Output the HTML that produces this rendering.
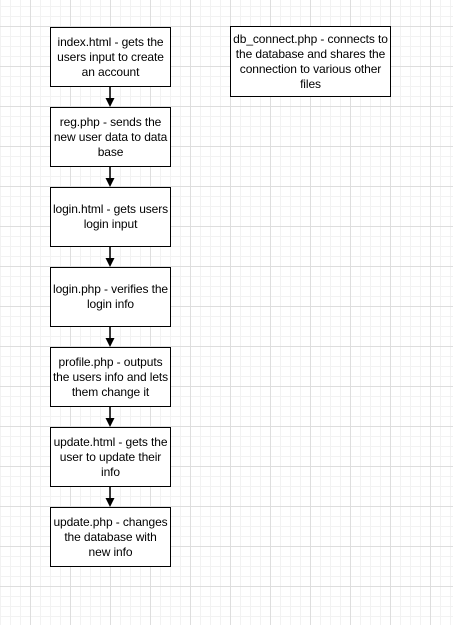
<!DOCTYPE html>
<html><head><style>
html,body{margin:0;padding:0}
body{width:453px;height:625px;position:relative;overflow:hidden;background-color:#fff;
background-image:
linear-gradient(to right,#dedede 1px,transparent 1px),
linear-gradient(to bottom,#dedede 1px,transparent 1px),
linear-gradient(to right,#f2f2f2 1px,transparent 1px),
linear-gradient(to bottom,#f2f2f2 1px,transparent 1px);
background-size:40px 40px,40px 40px,10px 10px,10px 10px;
background-position:30px 0,0 26px,0 0,0 6px;
font-family:"Liberation Sans",Arial,sans-serif;font-size:12px;color:#000}
.b{position:absolute;box-sizing:border-box;border:1.5px solid #000;background:#fff;display:flex;align-items:center;justify-content:center;text-align:center;line-height:15px;padding:0;white-space:nowrap;letter-spacing:-0.1px}
svg{position:absolute;left:0;top:0}
</style></head><body>
<svg width="453" height="625">
<g stroke="#000" stroke-width="1.5">
<line x1="110" y1="86" x2="110" y2="100"/>
<line x1="110" y1="166" x2="110" y2="180"/>
<line x1="110" y1="246" x2="110" y2="260"/>
<line x1="110" y1="326" x2="110" y2="340"/>
<line x1="110" y1="406" x2="110" y2="420"/>
<line x1="110" y1="486" x2="110" y2="500"/>
</g>
<g fill="#000">
<path d="M105.5 98 L114.5 98 L110 107 Z"/>
<path d="M105.5 178 L114.5 178 L110 187 Z"/>
<path d="M105.5 258 L114.5 258 L110 267 Z"/>
<path d="M105.5 338 L114.5 338 L110 347 Z"/>
<path d="M105.5 418 L114.5 418 L110 427 Z"/>
<path d="M105.5 498 L114.5 498 L110 507 Z"/>
</g>
</svg>
<div class="b" style="left:50px;top:27px;width:121px;height:60px">index.html - gets the<br>users input to create<br>an account</div>
<div class="b" style="left:50px;top:107px;width:121px;height:60px">reg.php - sends the<br>new user data to data<br>base</div>
<div class="b" style="left:50px;top:187px;width:121px;height:60px">login.html - gets users<br>login input</div>
<div class="b" style="left:50px;top:267px;width:121px;height:60px">login.php - verifies the<br>login info</div>
<div class="b" style="left:50px;top:347px;width:121px;height:60px">profile.php - outputs<br>the users info and lets<br>them change it</div>
<div class="b" style="left:50px;top:427px;width:121px;height:60px">update.html - gets the<br>user to update their<br>info</div>
<div class="b" style="left:50px;top:507px;width:121px;height:60px">update.php - changes<br>the database with<br>new info</div>
<div class="b" style="left:230px;top:26px;width:161px;height:71px">db_connect.php - connects to<br>the database and shares the<br>connection to various other<br>files</div>
</body></html>
